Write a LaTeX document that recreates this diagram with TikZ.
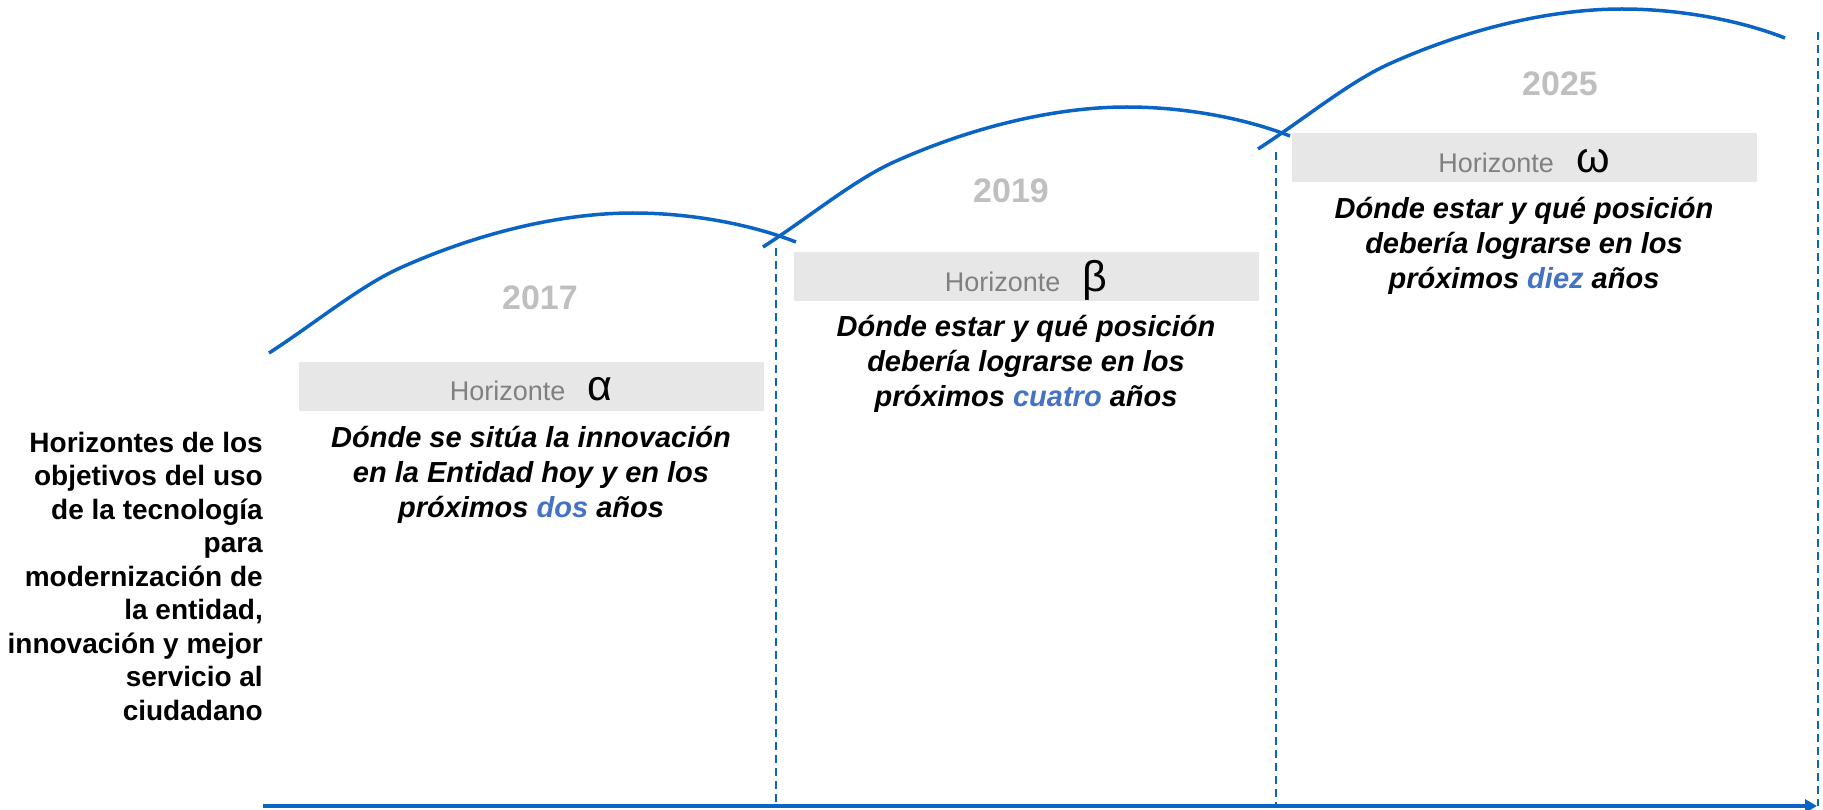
\documentclass[tikz,border=0pt]{standalone}
\usepackage{fontspec}
\setmainfont{Liberation Sans}
\usetikzlibrary{positioning, arrows.meta}

\definecolor{lineblue}{RGB}{10,100,196}
\definecolor{wordblue}{RGB}{68,114,196}
\definecolor{bandgray}{RGB}{231,231,231}
\definecolor{yeargray}{RGB}{191,191,191}
\definecolor{labelgray}{RGB}{128,128,128}

\newcommand{\horiz}[1]{{\color{labelgray}\fontsize{27}{32}\selectfont Horizonte}\hspace{22pt}{\fontsize{43}{47}\selectfont #1}}

\tikzset{
  curve/.style={draw=lineblue, line width=3.5pt},
  guide/.style={draw=lineblue, line width=1.4pt, dash pattern=on 8pt off 5pt},
  axis/.style={draw=lineblue, line width=4.5pt, -{Triangle[length=12pt,width=13pt]}},
  band/.style={fill=bandgray, minimum width=465pt, minimum height=49pt, text height=29pt, text depth=0pt},
  year/.style={font=\fontsize{34}{40}\selectfont\bfseries, text=yeargray},
  goal/.style={font=\fontsize{29}{35}\selectfont\bfseries\itshape, align=center},
  sidetext/.style={font=\fontsize{28}{33.5}\selectfont\bfseries, align=right},
}

\begin{document}
\begin{tikzpicture}[x=1pt, y=-1pt, every node/.style={inner sep=0pt}]
    \useasboundingbox (0,0) rectangle (1823,810);

    \coordinate (O) at (263,806);
    \coordinate (E) at (1817,806);

    \foreach \dx/\dy in {0/0, 494/-106, 989/-204}
        \draw[curve, shift={(\dx,\dy)}] (269,353) .. controls (314,324) and (360,286) .. (400,268)
            .. controls (480,232) and (563,213) .. (633,213)
            .. controls (690,213) and (750,224) .. (796,242);

    \foreach \x/\t in {776/248, 1276/152, 1818/32}
        \draw[guide] (\x,\t) -- (\x,806);

    \draw[axis] (O) -- (E);

    \node[band] (b1) at (531,386) {\horiz{α}};
    \node[band] (b2) at (1026,277) {\horiz{β}};
    \node[band] (b3) at (1524,158) {\horiz{ω}};

    \node[year] (y1) at (540,298) {2017};
    \node[year] (y2) at (1011,191) {2019};
    \node[year] (y3) at (1560,84) {2025};

    \node[goal, below=15pt of b1] (g1) {Dónde se sitúa la innovación\\en la Entidad hoy y en los\\próximos \textcolor{wordblue}{dos} años};
    \node[goal, below=13pt of b2] (g2) {Dónde estar y qué posición\\debería lograrse en los\\próximos \textcolor{wordblue}{cuatro} años};
    \node[goal, below=14pt of b3] (g3) {Dónde estar y qué posición\\debería lograrse en los\\próximos \textcolor{wordblue}{diez} años};

    \node[sidetext, anchor=north east] (side) at (263,432) {Horizontes de los\\objetivos del uso\\de la tecnología\\para\\modernización de\\la entidad,\\innovación y mejor\\servicio al\\ciudadano};
\end{tikzpicture}
\end{document}
